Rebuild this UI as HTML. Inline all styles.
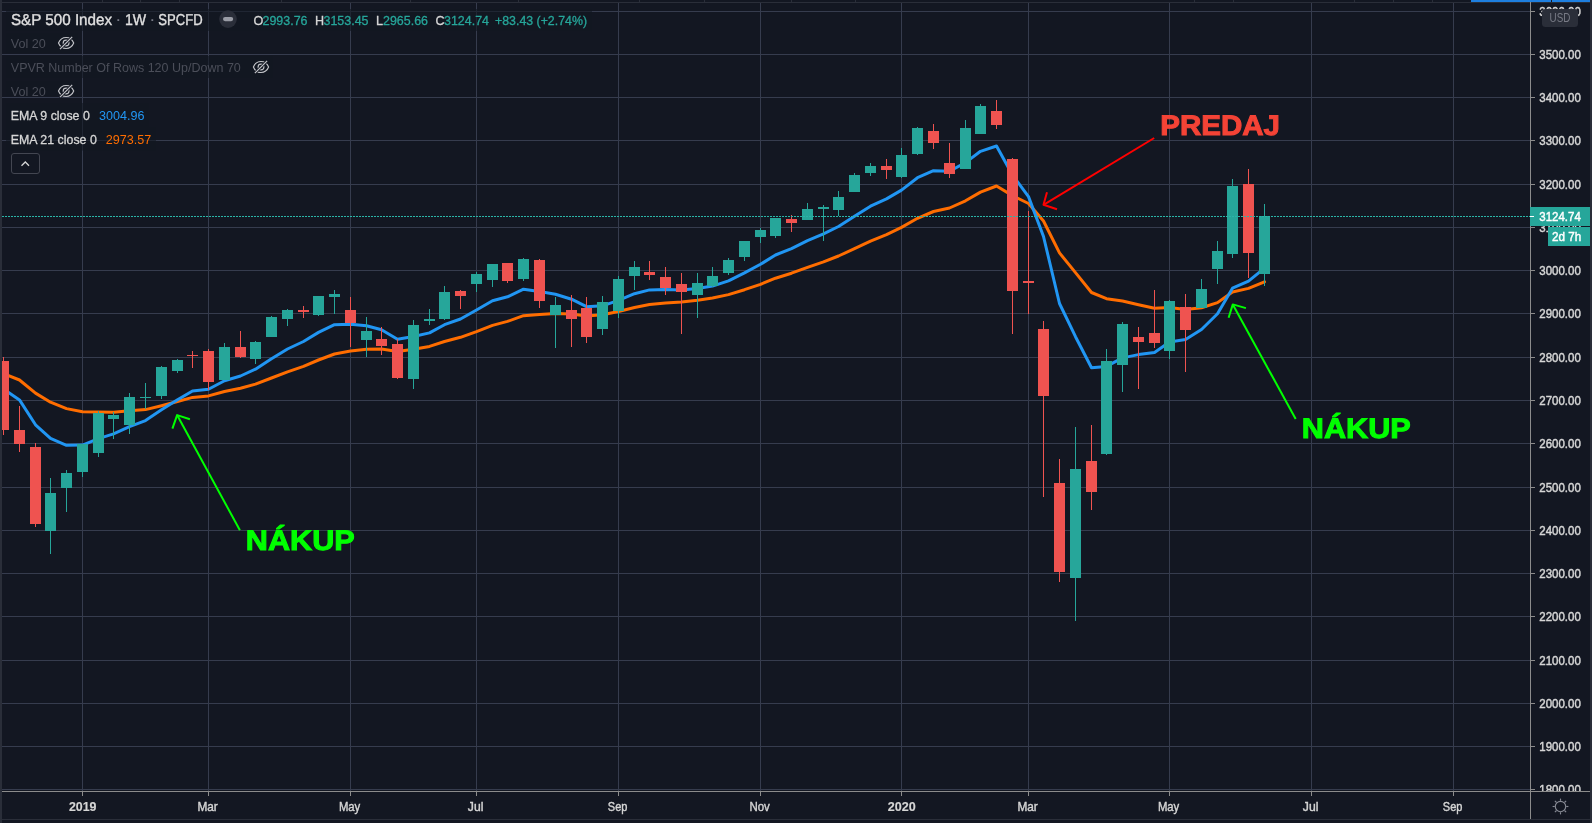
<!DOCTYPE html>
<html><head><meta charset="utf-8"><title>S&amp;P 500 Index</title>
<style>html,body{margin:0;padding:0;background:#131722;overflow:hidden}svg{display:block;will-change:transform}text{font-family:"Liberation Sans",sans-serif}</style></head><body>
<svg width="1592" height="823" viewBox="0 0 1592 823">
<rect width="1592" height="823" fill="#131722"/>
<defs><clipPath id="pane"><rect x="2" y="2" width="1528" height="789"/></clipPath><clipPath id="paxis"><rect x="1531" y="2" width="59" height="789"/></clipPath></defs>
<g shape-rendering="crispEdges" fill="#363c4e">
<rect x="2" y="11" width="1528" height="1"/>
<rect x="2" y="54" width="1528" height="1"/>
<rect x="2" y="97" width="1528" height="1"/>
<rect x="2" y="140" width="1528" height="1"/>
<rect x="2" y="184" width="1528" height="1"/>
<rect x="2" y="227" width="1528" height="1"/>
<rect x="2" y="270" width="1528" height="1"/>
<rect x="2" y="313" width="1528" height="1"/>
<rect x="2" y="357" width="1528" height="1"/>
<rect x="2" y="400" width="1528" height="1"/>
<rect x="2" y="443" width="1528" height="1"/>
<rect x="2" y="487" width="1528" height="1"/>
<rect x="2" y="530" width="1528" height="1"/>
<rect x="2" y="573" width="1528" height="1"/>
<rect x="2" y="616" width="1528" height="1"/>
<rect x="2" y="660" width="1528" height="1"/>
<rect x="2" y="703" width="1528" height="1"/>
<rect x="2" y="746" width="1528" height="1"/>
<rect x="2" y="789" width="1528" height="1"/>
<rect x="82" y="2" width="1" height="789"/>
<rect x="208" y="2" width="1" height="789"/>
<rect x="350" y="2" width="1" height="789"/>
<rect x="476" y="2" width="1" height="789"/>
<rect x="618" y="2" width="1" height="789"/>
<rect x="760" y="2" width="1" height="789"/>
<rect x="901" y="2" width="1" height="789"/>
<rect x="1028" y="2" width="1" height="789"/>
<rect x="1169" y="2" width="1" height="789"/>
<rect x="1311" y="2" width="1" height="789"/>
<rect x="1453" y="2" width="1" height="789"/>
</g>
<polyline fill="none" stroke="#ff6d00" stroke-width="3" stroke-linejoin="round" stroke-linecap="round" clip-path="url(#pane)" points="-12.5,368.0 3.5,373.6 19.5,380.0 35.5,393.1 50.5,402.2 66.5,408.6 82.5,411.8 98.5,411.9 113.5,412.2 129.5,410.8 145.5,409.6 161.5,405.7 177.5,401.5 192.5,397.4 208.5,395.9 224.5,391.5 240.5,388.3 255.5,384.1 271.5,378.0 287.5,371.8 303.5,366.4 318.5,360.0 334.5,354.0 350.5,351.1 366.5,349.3 381.5,349.0 397.5,351.6 413.5,349.2 429.5,346.4 444.5,341.5 460.5,337.3 476.5,331.6 492.5,325.4 507.5,321.4 523.5,315.7 539.5,314.4 555.5,313.5 571.5,314.0 586.5,316.1 602.5,314.8 618.5,311.5 634.5,307.5 649.5,304.5 665.5,303.0 681.5,302.0 697.5,300.3 712.5,298.0 728.5,294.6 744.5,289.7 760.5,284.3 775.5,278.2 791.5,273.2 807.5,267.4 823.5,261.9 838.5,256.0 854.5,248.6 870.5,241.1 886.5,234.6 901.5,227.4 917.5,218.3 933.5,211.5 949.5,208.0 965.5,200.8 980.5,192.1 996.5,186.0 1012.5,195.6 1028.5,203.5 1043.5,221.0 1059.5,252.9 1075.5,272.6 1091.5,292.5 1106.5,298.7 1122.5,301.0 1138.5,304.7 1154.5,308.2 1169.5,307.6 1185.5,309.6 1201.5,307.7 1217.5,302.6 1232.5,292.0 1248.5,288.4 1264.5,281.8"/>
<polyline fill="none" stroke="#2196f3" stroke-width="3" stroke-linejoin="round" stroke-linecap="round" clip-path="url(#pane)" points="-12.5,378.8 3.5,389.0 19.5,399.9 35.5,424.8 50.5,438.4 66.5,445.3 82.5,445.1 98.5,438.6 113.5,433.9 129.5,426.6 145.5,420.6 161.5,409.8 177.5,399.8 192.5,391.0 208.5,389.2 224.5,380.7 240.5,376.0 255.5,369.2 271.5,358.7 287.5,349.0 303.5,341.5 318.5,332.4 334.5,324.7 350.5,324.3 366.5,325.7 381.5,329.7 397.5,339.3 413.5,336.5 429.5,332.9 444.5,324.7 460.5,319.0 476.5,310.0 492.5,300.8 507.5,296.8 523.5,289.2 539.5,291.6 555.5,294.2 571.5,299.2 586.5,306.7 602.5,305.8 618.5,300.4 634.5,293.7 649.5,289.9 665.5,289.5 681.5,290.0 697.5,288.6 712.5,286.1 728.5,280.8 744.5,272.9 760.5,264.3 775.5,255.0 791.5,248.6 807.5,240.6 823.5,233.9 838.5,226.5 854.5,216.2 870.5,206.2 886.5,198.9 901.5,190.1 917.5,177.7 933.5,170.7 949.5,171.3 965.5,162.6 980.5,151.3 996.5,146.0 1012.5,175.0 1028.5,196.6 1043.5,236.5 1059.5,303.5 1075.5,336.7 1091.5,367.7 1106.5,366.4 1122.5,357.9 1138.5,354.6 1154.5,352.4 1169.5,342.1 1185.5,339.6 1201.5,329.5 1217.5,313.8 1232.5,288.2 1248.5,281.1 1264.5,268.1"/>
<g shape-rendering="crispEdges" clip-path="url(#pane)">
<rect x="3" y="357" width="1" height="78" fill="#ef5350"/>
<rect x="-2" y="361" width="11" height="69" fill="#ef5350"/>
<rect x="19" y="406" width="1" height="46" fill="#ef5350"/>
<rect x="14" y="430" width="11" height="14" fill="#ef5350"/>
<rect x="35" y="443" width="1" height="84" fill="#ef5350"/>
<rect x="30" y="447" width="11" height="77" fill="#ef5350"/>
<rect x="50" y="478" width="1" height="76" fill="#26a69a"/>
<rect x="45" y="493" width="11" height="38" fill="#26a69a"/>
<rect x="66" y="470" width="1" height="42" fill="#26a69a"/>
<rect x="61" y="473" width="11" height="15" fill="#26a69a"/>
<rect x="82" y="444" width="1" height="33" fill="#26a69a"/>
<rect x="77" y="444" width="11" height="28" fill="#26a69a"/>
<rect x="98" y="411" width="1" height="46" fill="#26a69a"/>
<rect x="93" y="413" width="11" height="40" fill="#26a69a"/>
<rect x="113" y="412" width="1" height="27" fill="#26a69a"/>
<rect x="108" y="415" width="11" height="4" fill="#26a69a"/>
<rect x="129" y="393" width="1" height="41" fill="#26a69a"/>
<rect x="124" y="397" width="11" height="28" fill="#26a69a"/>
<rect x="145" y="383" width="1" height="26" fill="#26a69a"/>
<rect x="140" y="397" width="11" height="1" fill="#26a69a"/>
<rect x="161" y="366" width="1" height="33" fill="#26a69a"/>
<rect x="156" y="367" width="11" height="29" fill="#26a69a"/>
<rect x="177" y="359" width="1" height="14" fill="#26a69a"/>
<rect x="172" y="360" width="11" height="11" fill="#26a69a"/>
<rect x="192" y="351" width="1" height="17" fill="#ef5350"/>
<rect x="187" y="355" width="11" height="1" fill="#ef5350"/>
<rect x="208" y="349" width="1" height="41" fill="#ef5350"/>
<rect x="203" y="351" width="11" height="31" fill="#ef5350"/>
<rect x="224" y="343" width="1" height="37" fill="#26a69a"/>
<rect x="219" y="347" width="11" height="33" fill="#26a69a"/>
<rect x="240" y="331" width="1" height="27" fill="#ef5350"/>
<rect x="235" y="347" width="11" height="10" fill="#ef5350"/>
<rect x="255" y="341" width="1" height="23" fill="#26a69a"/>
<rect x="250" y="342" width="11" height="17" fill="#26a69a"/>
<rect x="271" y="316" width="1" height="21" fill="#26a69a"/>
<rect x="266" y="317" width="11" height="20" fill="#26a69a"/>
<rect x="287" y="309" width="1" height="17" fill="#26a69a"/>
<rect x="282" y="310" width="11" height="9" fill="#26a69a"/>
<rect x="303" y="306" width="1" height="12" fill="#ef5350"/>
<rect x="298" y="310" width="11" height="2" fill="#ef5350"/>
<rect x="318" y="296" width="1" height="20" fill="#26a69a"/>
<rect x="313" y="296" width="11" height="19" fill="#26a69a"/>
<rect x="334" y="290" width="1" height="24" fill="#26a69a"/>
<rect x="329" y="294" width="11" height="3" fill="#26a69a"/>
<rect x="350" y="297" width="1" height="50" fill="#ef5350"/>
<rect x="345" y="310" width="11" height="13" fill="#ef5350"/>
<rect x="366" y="317" width="1" height="40" fill="#26a69a"/>
<rect x="361" y="331" width="11" height="9" fill="#26a69a"/>
<rect x="381" y="327" width="1" height="28" fill="#ef5350"/>
<rect x="376" y="339" width="11" height="7" fill="#ef5350"/>
<rect x="397" y="339" width="1" height="40" fill="#ef5350"/>
<rect x="392" y="344" width="11" height="34" fill="#ef5350"/>
<rect x="413" y="320" width="1" height="69" fill="#26a69a"/>
<rect x="408" y="325" width="11" height="54" fill="#26a69a"/>
<rect x="429" y="309" width="1" height="16" fill="#26a69a"/>
<rect x="424" y="319" width="11" height="2" fill="#26a69a"/>
<rect x="444" y="286" width="1" height="34" fill="#26a69a"/>
<rect x="439" y="292" width="11" height="27" fill="#26a69a"/>
<rect x="460" y="290" width="1" height="19" fill="#ef5350"/>
<rect x="455" y="291" width="11" height="5" fill="#ef5350"/>
<rect x="476" y="272" width="1" height="20" fill="#26a69a"/>
<rect x="471" y="274" width="11" height="10" fill="#26a69a"/>
<rect x="492" y="264" width="1" height="23" fill="#26a69a"/>
<rect x="487" y="264" width="11" height="16" fill="#26a69a"/>
<rect x="507" y="263" width="1" height="20" fill="#ef5350"/>
<rect x="502" y="263" width="11" height="18" fill="#ef5350"/>
<rect x="523" y="258" width="1" height="23" fill="#26a69a"/>
<rect x="518" y="259" width="11" height="20" fill="#26a69a"/>
<rect x="539" y="259" width="1" height="49" fill="#ef5350"/>
<rect x="534" y="260" width="11" height="41" fill="#ef5350"/>
<rect x="555" y="297" width="1" height="51" fill="#26a69a"/>
<rect x="550" y="305" width="11" height="10" fill="#26a69a"/>
<rect x="571" y="295" width="1" height="52" fill="#ef5350"/>
<rect x="566" y="310" width="11" height="9" fill="#ef5350"/>
<rect x="586" y="297" width="1" height="46" fill="#ef5350"/>
<rect x="581" y="308" width="11" height="29" fill="#ef5350"/>
<rect x="602" y="296" width="1" height="39" fill="#26a69a"/>
<rect x="597" y="302" width="11" height="27" fill="#26a69a"/>
<rect x="618" y="276" width="1" height="42" fill="#26a69a"/>
<rect x="613" y="279" width="11" height="32" fill="#26a69a"/>
<rect x="634" y="261" width="1" height="29" fill="#26a69a"/>
<rect x="629" y="267" width="11" height="9" fill="#26a69a"/>
<rect x="649" y="261" width="1" height="19" fill="#ef5350"/>
<rect x="644" y="272" width="11" height="3" fill="#ef5350"/>
<rect x="665" y="267" width="1" height="28" fill="#ef5350"/>
<rect x="660" y="277" width="11" height="11" fill="#ef5350"/>
<rect x="681" y="273" width="1" height="61" fill="#ef5350"/>
<rect x="676" y="284" width="11" height="8" fill="#ef5350"/>
<rect x="697" y="273" width="1" height="45" fill="#26a69a"/>
<rect x="692" y="283" width="11" height="12" fill="#26a69a"/>
<rect x="712" y="267" width="1" height="20" fill="#26a69a"/>
<rect x="707" y="276" width="11" height="10" fill="#26a69a"/>
<rect x="728" y="258" width="1" height="17" fill="#26a69a"/>
<rect x="723" y="260" width="11" height="13" fill="#26a69a"/>
<rect x="744" y="241" width="1" height="20" fill="#26a69a"/>
<rect x="739" y="241" width="11" height="16" fill="#26a69a"/>
<rect x="760" y="228" width="1" height="15" fill="#26a69a"/>
<rect x="755" y="230" width="11" height="7" fill="#26a69a"/>
<rect x="775" y="218" width="1" height="20" fill="#26a69a"/>
<rect x="770" y="218" width="11" height="18" fill="#26a69a"/>
<rect x="791" y="215" width="1" height="17" fill="#ef5350"/>
<rect x="786" y="219" width="11" height="4" fill="#ef5350"/>
<rect x="807" y="203" width="1" height="17" fill="#26a69a"/>
<rect x="802" y="209" width="11" height="11" fill="#26a69a"/>
<rect x="823" y="205" width="1" height="36" fill="#26a69a"/>
<rect x="818" y="207" width="11" height="2" fill="#26a69a"/>
<rect x="838" y="191" width="1" height="25" fill="#26a69a"/>
<rect x="833" y="197" width="11" height="13" fill="#26a69a"/>
<rect x="854" y="173" width="1" height="19" fill="#26a69a"/>
<rect x="849" y="175" width="11" height="17" fill="#26a69a"/>
<rect x="870" y="163" width="1" height="13" fill="#26a69a"/>
<rect x="865" y="166" width="11" height="7" fill="#26a69a"/>
<rect x="886" y="159" width="1" height="20" fill="#ef5350"/>
<rect x="881" y="166" width="11" height="4" fill="#ef5350"/>
<rect x="901" y="148" width="1" height="30" fill="#26a69a"/>
<rect x="896" y="155" width="11" height="22" fill="#26a69a"/>
<rect x="917" y="127" width="1" height="28" fill="#26a69a"/>
<rect x="912" y="128" width="11" height="26" fill="#26a69a"/>
<rect x="933" y="124" width="1" height="25" fill="#ef5350"/>
<rect x="928" y="131" width="11" height="12" fill="#ef5350"/>
<rect x="949" y="143" width="1" height="35" fill="#ef5350"/>
<rect x="944" y="163" width="11" height="11" fill="#ef5350"/>
<rect x="965" y="120" width="1" height="49" fill="#26a69a"/>
<rect x="960" y="128" width="11" height="41" fill="#26a69a"/>
<rect x="980" y="104" width="1" height="30" fill="#26a69a"/>
<rect x="975" y="106" width="11" height="28" fill="#26a69a"/>
<rect x="996" y="100" width="1" height="29" fill="#ef5350"/>
<rect x="991" y="111" width="11" height="14" fill="#ef5350"/>
<rect x="1012" y="158" width="1" height="176" fill="#ef5350"/>
<rect x="1007" y="159" width="11" height="132" fill="#ef5350"/>
<rect x="1028" y="211" width="1" height="103" fill="#ef5350"/>
<rect x="1023" y="281" width="11" height="2" fill="#ef5350"/>
<rect x="1043" y="321" width="1" height="176" fill="#ef5350"/>
<rect x="1038" y="329" width="11" height="67" fill="#ef5350"/>
<rect x="1059" y="459" width="1" height="123" fill="#ef5350"/>
<rect x="1054" y="483" width="11" height="89" fill="#ef5350"/>
<rect x="1075" y="427" width="1" height="194" fill="#26a69a"/>
<rect x="1070" y="469" width="11" height="109" fill="#26a69a"/>
<rect x="1091" y="425" width="1" height="85" fill="#ef5350"/>
<rect x="1086" y="461" width="11" height="31" fill="#ef5350"/>
<rect x="1106" y="349" width="1" height="106" fill="#26a69a"/>
<rect x="1101" y="361" width="11" height="93" fill="#26a69a"/>
<rect x="1122" y="322" width="1" height="70" fill="#26a69a"/>
<rect x="1117" y="324" width="11" height="41" fill="#26a69a"/>
<rect x="1138" y="327" width="1" height="62" fill="#ef5350"/>
<rect x="1133" y="337" width="11" height="5" fill="#ef5350"/>
<rect x="1154" y="290" width="1" height="58" fill="#ef5350"/>
<rect x="1149" y="333" width="11" height="10" fill="#ef5350"/>
<rect x="1169" y="300" width="1" height="59" fill="#26a69a"/>
<rect x="1164" y="301" width="11" height="50" fill="#26a69a"/>
<rect x="1185" y="294" width="1" height="78" fill="#ef5350"/>
<rect x="1180" y="307" width="11" height="23" fill="#ef5350"/>
<rect x="1201" y="279" width="1" height="29" fill="#26a69a"/>
<rect x="1196" y="289" width="11" height="19" fill="#26a69a"/>
<rect x="1217" y="241" width="1" height="43" fill="#26a69a"/>
<rect x="1212" y="251" width="11" height="18" fill="#26a69a"/>
<rect x="1232" y="179" width="1" height="79" fill="#26a69a"/>
<rect x="1227" y="186" width="11" height="68" fill="#26a69a"/>
<rect x="1248" y="169" width="1" height="109" fill="#ef5350"/>
<rect x="1243" y="184" width="11" height="69" fill="#ef5350"/>
<rect x="1264" y="204" width="1" height="82" fill="#26a69a"/>
<rect x="1259" y="216" width="11" height="58" fill="#26a69a"/>
</g>
<line x1="2" x2="1530" y1="216.5" y2="216.5" stroke="#2bb5a8" stroke-width="1" stroke-dasharray="2 1" shape-rendering="crispEdges"/>
<g stroke="#ff0000" stroke-width="2" fill="none" stroke-linecap="butt" stroke-linejoin="round"><line x1="1154.2" y1="138.0" x2="1043.5" y2="204.8"/><polyline points="1047.0,192.3 1043.5,204.8 1057.0,209.2"/></g>
<g stroke="#00ff00" stroke-width="2" fill="none" stroke-linecap="butt" stroke-linejoin="round"><line x1="239.9" y1="530.2" x2="177.1" y2="415.1"/><polyline points="189.9,419.2 177.1,415.1 172.4,428.6"/></g>
<g stroke="#00ff00" stroke-width="2" fill="none" stroke-linecap="butt" stroke-linejoin="round"><line x1="1295.7" y1="419.0" x2="1232.8" y2="304.4"/><polyline points="1245.9,308.1 1232.8,304.4 1228.6,317.7"/></g>
<g font-weight="bold" font-size="28.2" stroke-width="1.0" stroke-linejoin="miter" text-rendering="geometricPrecision">
<text x="1160.2" y="135.2" fill="#f44336" stroke="#f44336" textLength="119.8" lengthAdjust="spacingAndGlyphs">PREDAJ</text>
<text x="245.8" y="550.2" fill="#00ff00" stroke="#00ff00" textLength="108.9" lengthAdjust="spacingAndGlyphs">NÁKUP</text>
<text x="1301.8" y="438.1" fill="#00ff00" stroke="#00ff00" textLength="108.9" lengthAdjust="spacingAndGlyphs">NÁKUP</text>
</g>
<g shape-rendering="crispEdges">
<rect x="0" y="0" width="1592" height="2" fill="#131722"/>
<rect x="102" y="0" width="1" height="2" fill="#2a2e39"/>
<rect x="140" y="0" width="1" height="2" fill="#2a2e39"/>
<rect x="179" y="0" width="1" height="2" fill="#2a2e39"/>
<rect x="281" y="0" width="1" height="2" fill="#2a2e39"/>
<rect x="410" y="0" width="1" height="2" fill="#2a2e39"/>
<rect x="518" y="0" width="1" height="2" fill="#2a2e39"/>
<rect x="639" y="0" width="1" height="2" fill="#2a2e39"/>
<rect x="704" y="0" width="1" height="2" fill="#2a2e39"/>
<rect x="791" y="0" width="1" height="2" fill="#2a2e39"/>
<rect x="855" y="0" width="1" height="2" fill="#2a2e39"/>
<rect x="1194" y="0" width="1" height="2" fill="#2a2e39"/>
<rect x="1233" y="0" width="1" height="2" fill="#2a2e39"/>
<rect x="1354" y="0" width="1" height="2" fill="#2a2e39"/>
<rect x="1393" y="0" width="1" height="2" fill="#2a2e39"/>
<rect x="1432" y="0" width="1" height="2" fill="#2a2e39"/>
<rect x="0" y="2" width="1592" height="1" fill="#2a2e39"/>
<rect x="0" y="0" width="2" height="823" fill="#2a2e39"/>
<rect x="1590" y="0" width="2" height="823" fill="#2a2e39"/>
<rect x="0" y="819" width="1592" height="1" fill="#2a2e39"/>
<rect x="2" y="820" width="1588" height="3" fill="#131722"/>
<rect x="1471" y="0" width="80" height="2" fill="#1e7fe0"/>
<rect x="1552" y="0" width="38" height="2" fill="#1e7fe0"/>
<rect x="1530" y="2" width="1" height="817" fill="#8c8c8c"/>
<rect x="2" y="791" width="1588" height="1" fill="#8c8c8c"/>
<rect x="1531" y="11" width="4" height="1" fill="#8c8c8c"/>
<rect x="1531" y="54" width="4" height="1" fill="#8c8c8c"/>
<rect x="1531" y="97" width="4" height="1" fill="#8c8c8c"/>
<rect x="1531" y="140" width="4" height="1" fill="#8c8c8c"/>
<rect x="1531" y="184" width="4" height="1" fill="#8c8c8c"/>
<rect x="1531" y="227" width="4" height="1" fill="#8c8c8c"/>
<rect x="1531" y="270" width="4" height="1" fill="#8c8c8c"/>
<rect x="1531" y="313" width="4" height="1" fill="#8c8c8c"/>
<rect x="1531" y="357" width="4" height="1" fill="#8c8c8c"/>
<rect x="1531" y="400" width="4" height="1" fill="#8c8c8c"/>
<rect x="1531" y="443" width="4" height="1" fill="#8c8c8c"/>
<rect x="1531" y="487" width="4" height="1" fill="#8c8c8c"/>
<rect x="1531" y="530" width="4" height="1" fill="#8c8c8c"/>
<rect x="1531" y="573" width="4" height="1" fill="#8c8c8c"/>
<rect x="1531" y="616" width="4" height="1" fill="#8c8c8c"/>
<rect x="1531" y="660" width="4" height="1" fill="#8c8c8c"/>
<rect x="1531" y="703" width="4" height="1" fill="#8c8c8c"/>
<rect x="1531" y="746" width="4" height="1" fill="#8c8c8c"/>
<rect x="1531" y="789" width="4" height="1" fill="#8c8c8c"/>
<rect x="82" y="792" width="1" height="4" fill="#8c8c8c"/>
<rect x="208" y="792" width="1" height="4" fill="#8c8c8c"/>
<rect x="350" y="792" width="1" height="4" fill="#8c8c8c"/>
<rect x="476" y="792" width="1" height="4" fill="#8c8c8c"/>
<rect x="618" y="792" width="1" height="4" fill="#8c8c8c"/>
<rect x="760" y="792" width="1" height="4" fill="#8c8c8c"/>
<rect x="901" y="792" width="1" height="4" fill="#8c8c8c"/>
<rect x="1028" y="792" width="1" height="4" fill="#8c8c8c"/>
<rect x="1169" y="792" width="1" height="4" fill="#8c8c8c"/>
<rect x="1311" y="792" width="1" height="4" fill="#8c8c8c"/>
<rect x="1453" y="792" width="1" height="4" fill="#8c8c8c"/>
</g>
<g font-size="12.6" fill="#d6d6d6" stroke="#d6d6d6" stroke-width="0.45" clip-path="url(#paxis)">
<text x="1539.3" y="16.0" textLength="41.5" lengthAdjust="spacingAndGlyphs">3600.00</text>
<text x="1539.3" y="59.0" textLength="41.5" lengthAdjust="spacingAndGlyphs">3500.00</text>
<text x="1539.3" y="102.0" textLength="41.5" lengthAdjust="spacingAndGlyphs">3400.00</text>
<text x="1539.3" y="145.0" textLength="41.5" lengthAdjust="spacingAndGlyphs">3300.00</text>
<text x="1539.3" y="189.0" textLength="41.5" lengthAdjust="spacingAndGlyphs">3200.00</text>
<text x="1539.3" y="232.0" textLength="41.5" lengthAdjust="spacingAndGlyphs">3100.00</text>
<text x="1539.3" y="275.0" textLength="41.5" lengthAdjust="spacingAndGlyphs">3000.00</text>
<text x="1539.3" y="318.0" textLength="41.5" lengthAdjust="spacingAndGlyphs">2900.00</text>
<text x="1539.3" y="362.0" textLength="41.5" lengthAdjust="spacingAndGlyphs">2800.00</text>
<text x="1539.3" y="405.0" textLength="41.5" lengthAdjust="spacingAndGlyphs">2700.00</text>
<text x="1539.3" y="448.0" textLength="41.5" lengthAdjust="spacingAndGlyphs">2600.00</text>
<text x="1539.3" y="492.0" textLength="41.5" lengthAdjust="spacingAndGlyphs">2500.00</text>
<text x="1539.3" y="535.0" textLength="41.5" lengthAdjust="spacingAndGlyphs">2400.00</text>
<text x="1539.3" y="578.0" textLength="41.5" lengthAdjust="spacingAndGlyphs">2300.00</text>
<text x="1539.3" y="621.0" textLength="41.5" lengthAdjust="spacingAndGlyphs">2200.00</text>
<text x="1539.3" y="665.0" textLength="41.5" lengthAdjust="spacingAndGlyphs">2100.00</text>
<text x="1539.3" y="708.0" textLength="41.5" lengthAdjust="spacingAndGlyphs">2000.00</text>
<text x="1539.3" y="751.0" textLength="41.5" lengthAdjust="spacingAndGlyphs">1900.00</text>
<text x="1539.3" y="794.0" textLength="41.5" lengthAdjust="spacingAndGlyphs">1800.00</text>
</g>
<rect x="1542" y="9" width="36" height="18" rx="3.5" fill="#2a2e39"/>
<text x="1549.6" y="22.2" font-size="12.6" fill="#787b86" textLength="20.8" lengthAdjust="spacingAndGlyphs">USD</text>
<g shape-rendering="crispEdges">
<rect x="1530" y="207" width="60" height="19" fill="#26a69a"/>
<rect x="1530" y="216" width="4" height="1" fill="#ffffff"/>
<rect x="1548" y="227" width="42" height="19" fill="#26a69a"/>
</g>
<text x="1539.3" y="221" font-size="12.6" fill="#ffffff" stroke="#ffffff" stroke-width="0.45" textLength="41.5" lengthAdjust="spacingAndGlyphs">3124.74</text>
<text x="1552" y="241" font-size="12.6" fill="#ffffff" stroke="#ffffff" stroke-width="0.45" textLength="29.2" lengthAdjust="spacingAndGlyphs">2d 7h</text>
<g font-size="12.6" fill="#d6d6d6" stroke="#d6d6d6" stroke-width="0.4" text-anchor="middle">
<text x="82.7" y="811" font-weight="bold" stroke-width="0.15" textLength="27.6" lengthAdjust="spacingAndGlyphs">2019</text>
<text x="207.6" y="811" textLength="20.4" lengthAdjust="spacingAndGlyphs">Mar</text>
<text x="349.6" y="811" textLength="21.4" lengthAdjust="spacingAndGlyphs">May</text>
<text x="475.6" y="811" textLength="15.6" lengthAdjust="spacingAndGlyphs">Jul</text>
<text x="617.6" y="811" textLength="19.6" lengthAdjust="spacingAndGlyphs">Sep</text>
<text x="759.6" y="811" textLength="20.4" lengthAdjust="spacingAndGlyphs">Nov</text>
<text x="901.7" y="811" font-weight="bold" stroke-width="0.15" textLength="28.0" lengthAdjust="spacingAndGlyphs">2020</text>
<text x="1027.6" y="811" textLength="20.4" lengthAdjust="spacingAndGlyphs">Mar</text>
<text x="1168.6" y="811" textLength="21.4" lengthAdjust="spacingAndGlyphs">May</text>
<text x="1310.6" y="811" textLength="15.6" lengthAdjust="spacingAndGlyphs">Jul</text>
<text x="1452.6" y="811" textLength="19.6" lengthAdjust="spacingAndGlyphs">Sep</text>
</g>
<g stroke="#868993" stroke-width="1.15" fill="none">
<circle cx="1560.5" cy="806.5" r="5.2"/>
<line x1="1566.20" y1="806.50" x2="1568.40" y2="806.50"/>
<line x1="1564.53" y1="810.53" x2="1566.09" y2="812.09"/>
<line x1="1560.50" y1="812.20" x2="1560.50" y2="814.40"/>
<line x1="1556.47" y1="810.53" x2="1554.91" y2="812.09"/>
<line x1="1554.80" y1="806.50" x2="1552.60" y2="806.50"/>
<line x1="1556.47" y1="802.47" x2="1554.91" y2="800.91"/>
<line x1="1560.50" y1="800.80" x2="1560.50" y2="798.60"/>
<line x1="1564.53" y1="802.47" x2="1566.09" y2="800.91"/>
</g>
<rect x="6" y="9.0" width="586" height="22.0" fill="#131722" fill-opacity="0.6"/>
<rect x="6" y="33.0" width="72" height="20.0" fill="#131722" fill-opacity="0.6"/>
<rect x="6" y="56.0" width="267" height="22.0" fill="#131722" fill-opacity="0.6"/>
<rect x="6" y="81.0" width="72" height="15.0" fill="#131722" fill-opacity="0.6"/>
<rect x="6" y="103.0" width="143" height="24.0" fill="#131722" fill-opacity="0.6"/>
<rect x="6" y="127.0" width="150" height="23.5" fill="#131722" fill-opacity="0.6"/>
<g font-size="15.8" text-rendering="geometricPrecision" fill="#e0e0e0" stroke="#e0e0e0" stroke-width="0.35">
<text x="10.9" y="24.9" textLength="101.2" lengthAdjust="spacingAndGlyphs">S&amp;P 500 Index</text>
<text x="124.9" y="24.9" textLength="21.2" lengthAdjust="spacingAndGlyphs">1W</text>
<text x="158.3" y="24.9" textLength="44.3" lengthAdjust="spacingAndGlyphs">SPCFD</text>
</g>
<rect x="117.4" y="19.2" width="1.8" height="1.8" fill="#787b86"/>
<rect x="151.4" y="19.2" width="1.8" height="1.8" fill="#787b86"/>
<circle cx="228" cy="19.1" r="8.8" fill="#2a2e39"/>
<rect x="223" y="17" width="10.2" height="4.2" rx="2.1" fill="#9a9da6"/>
<g font-size="12.6">
<text x="253.5" y="25.2" stroke="#d6d6d6" stroke-width="0.3" fill="#d6d6d6">O</text>
<text x="262.5" y="25.2" stroke="#26a69a" stroke-width="0.3" fill="#26a69a" textLength="45" lengthAdjust="spacingAndGlyphs">2993.76</text>
<text x="315" y="25.2" stroke="#d6d6d6" stroke-width="0.3" fill="#d6d6d6">H</text>
<text x="323.5" y="25.2" stroke="#26a69a" stroke-width="0.3" fill="#26a69a" textLength="45" lengthAdjust="spacingAndGlyphs">3153.45</text>
<text x="376" y="25.2" stroke="#d6d6d6" stroke-width="0.3" fill="#d6d6d6">L</text>
<text x="383" y="25.2" stroke="#26a69a" stroke-width="0.3" fill="#26a69a" textLength="45" lengthAdjust="spacingAndGlyphs">2965.66</text>
<text x="435.5" y="25.2" stroke="#d6d6d6" stroke-width="0.3" fill="#d6d6d6">C</text>
<text x="444" y="25.2" stroke="#26a69a" stroke-width="0.3" fill="#26a69a" textLength="45" lengthAdjust="spacingAndGlyphs">3124.74</text>
<text x="495" y="25.2" stroke="#26a69a" stroke-width="0.3" fill="#26a69a" textLength="92" lengthAdjust="spacingAndGlyphs">+83.43 (+2.74%)</text>
<text x="10.8" y="47.5" fill="#4b4e59" textLength="35" lengthAdjust="spacingAndGlyphs">Vol 20</text>
<g transform="translate(66.1,43)" stroke="#c3c4c9" stroke-width="1.15" fill="none"><path d="M-7.6,0 C-4.6,-7.3 4.6,-7.3 7.6,0 C4.6,7.3 -4.6,7.3 -7.6,0 Z"/><circle r="2.9"/><line x1="-6.6" y1="6.6" x2="6.6" y2="-6.6" stroke="#131722" stroke-width="2.8"/><line x1="-6.1" y1="6.1" x2="6.1" y2="-6.1" stroke-width="1.25"/></g>
<text x="10.8" y="71.5" fill="#4b4e59" textLength="230" lengthAdjust="spacingAndGlyphs">VPVR Number Of Rows 120 Up/Down 70</text>
<g transform="translate(261,67)" stroke="#c3c4c9" stroke-width="1.15" fill="none"><path d="M-7.6,0 C-4.6,-7.3 4.6,-7.3 7.6,0 C4.6,7.3 -4.6,7.3 -7.6,0 Z"/><circle r="2.9"/><line x1="-6.6" y1="6.6" x2="6.6" y2="-6.6" stroke="#131722" stroke-width="2.8"/><line x1="-6.1" y1="6.1" x2="6.1" y2="-6.1" stroke-width="1.25"/></g>
<text x="10.8" y="95.5" fill="#4b4e59" textLength="35" lengthAdjust="spacingAndGlyphs">Vol 20</text>
<g transform="translate(66.1,91)" stroke="#c3c4c9" stroke-width="1.15" fill="none"><path d="M-7.6,0 C-4.6,-7.3 4.6,-7.3 7.6,0 C4.6,7.3 -4.6,7.3 -7.6,0 Z"/><circle r="2.9"/><line x1="-6.6" y1="6.6" x2="6.6" y2="-6.6" stroke="#131722" stroke-width="2.8"/><line x1="-6.1" y1="6.1" x2="6.1" y2="-6.1" stroke-width="1.25"/></g>
<text x="10.8" y="119.5" fill="#d6d6d6" stroke="#d6d6d6" stroke-width="0.3" textLength="79" lengthAdjust="spacingAndGlyphs">EMA 9 close 0</text>
<text x="99" y="119.5" fill="#2196f3" textLength="45.5" lengthAdjust="spacingAndGlyphs">3004.96</text>
<text x="10.8" y="143.5" fill="#d6d6d6" stroke="#d6d6d6" stroke-width="0.3" textLength="86" lengthAdjust="spacingAndGlyphs">EMA 21 close 0</text>
<text x="105.8" y="143.5" fill="#ff6d00" textLength="45.5" lengthAdjust="spacingAndGlyphs">2973.57</text>
</g>
<rect x="11.5" y="153.5" width="28" height="20" rx="2.5" fill="none" stroke="#434651" stroke-width="1"/>
<polyline points="21.5,165.7 25.3,162 29,165.7" fill="none" stroke="#d6d6d6" stroke-width="1.3"/>
</svg></body></html>
